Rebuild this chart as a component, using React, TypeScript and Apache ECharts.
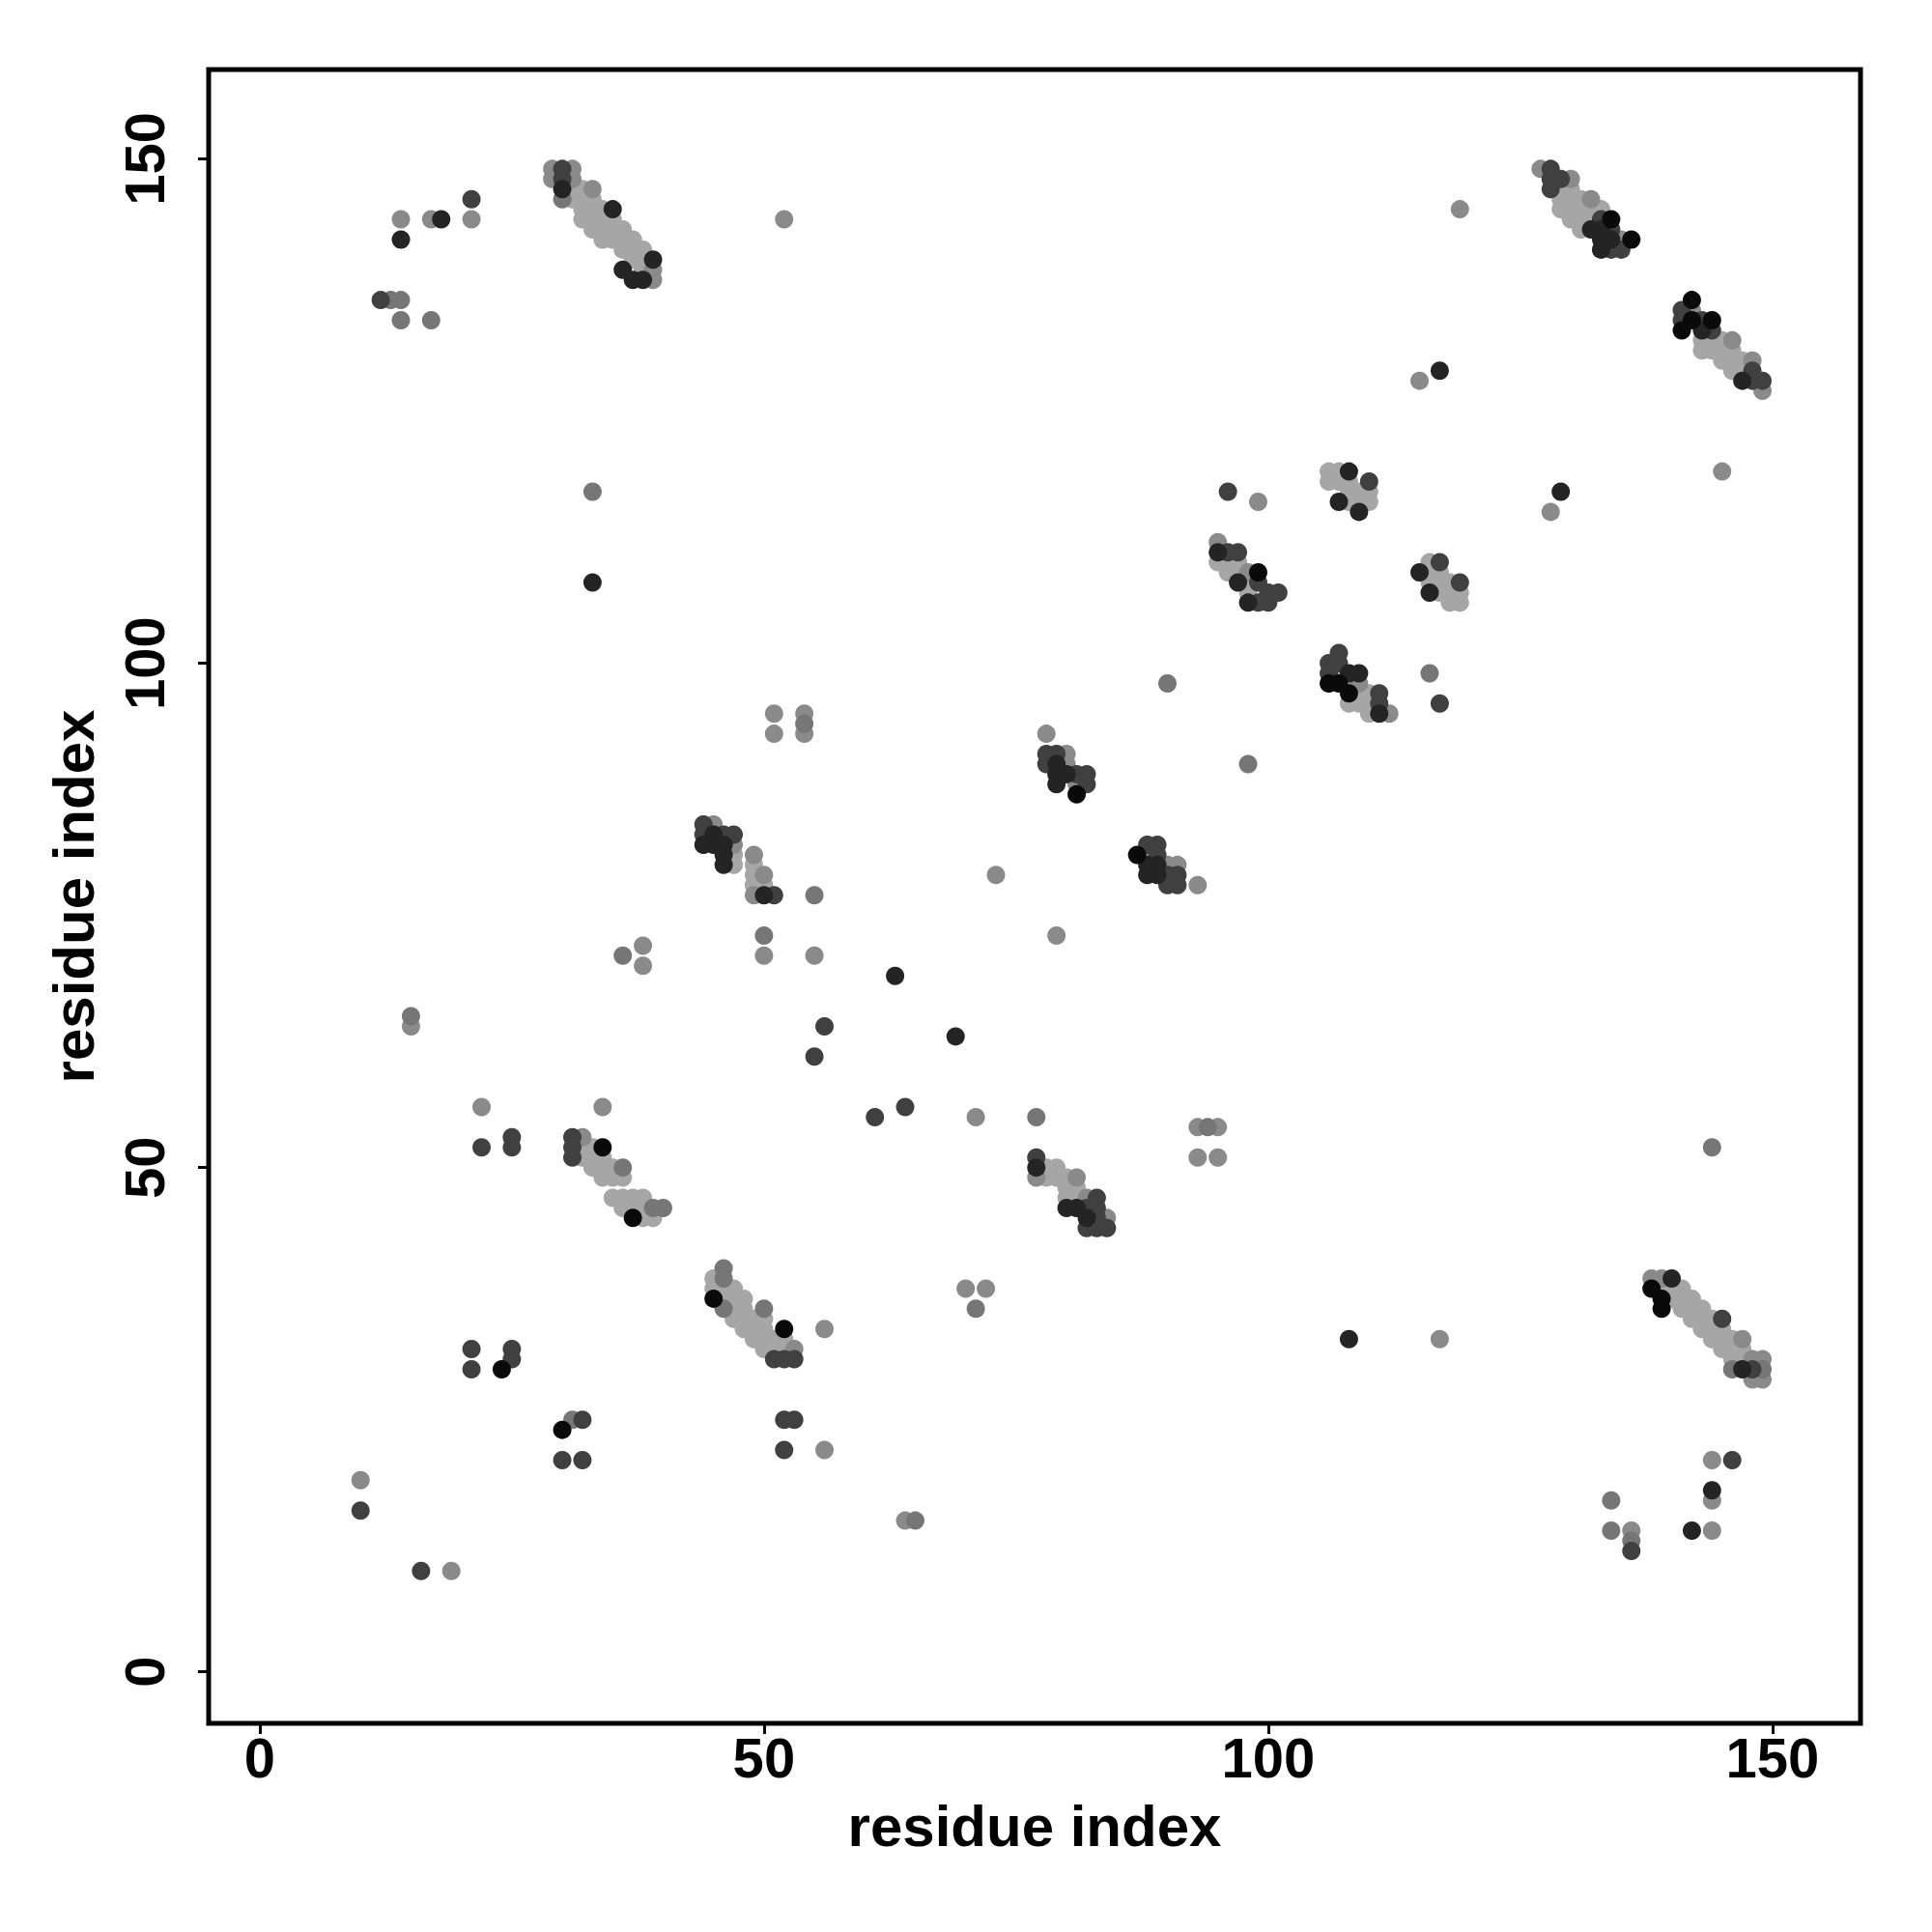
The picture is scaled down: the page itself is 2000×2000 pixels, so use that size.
import React, { useEffect, useRef } from "react";
import * as echarts from "echarts";

// [residue i, residue j, contact level 1 (weak, light) .. 6 (strong, black)]
const topLeftIsolated: number[][] = [
  [14, 144, 2], [14, 142, 5], [17, 144, 2], [18, 144, 5], [21, 146, 4], [21, 144, 2],
  [12, 136, 4], [13, 136, 3], [14, 136, 3], [14, 134, 3], [17, 134, 3],
  [33, 117, 3], [33, 108, 5], [52, 144, 2],
];

const topLeftBand: number[][] = [
  [31, 147, 1], [32, 147, 1], [31, 146, 1], [32, 146, 1], [32, 145, 1], [32, 144, 1],
  [33, 146, 1], [33, 145, 1], [33, 144, 1], [33, 143, 1], [34, 145, 1], [34, 144, 1],
  [34, 143, 1], [34, 142, 1], [35, 144, 1], [35, 143, 1], [35, 142, 1], [36, 143, 1],
  [36, 142, 1], [36, 141, 1], [37, 142, 1], [37, 141, 1], [37, 140, 1], [38, 141, 1],
  [38, 140, 1], [38, 139, 1],
  [29, 149, 2], [29, 148, 2], [30, 149, 4], [31, 149, 2], [31, 148, 2], [30, 148, 4],
  [30, 147, 5], [30, 146, 3], [33, 147, 2], [35, 145, 5], [39, 140, 5], [36, 139, 5],
  [37, 138, 5], [38, 138, 5], [39, 139, 2], [39, 138, 2],
];

const upperRightBand: number[][] = [
  [129, 147, 1], [129, 146, 1], [129, 145, 1], [130, 147, 1], [130, 146, 1], [130, 145, 1],
  [130, 144, 1], [131, 146, 1], [131, 145, 1], [131, 144, 1], [131, 143, 1], [132, 145, 1],
  [132, 144, 1], [133, 145, 1],
  [127, 149, 2], [128, 149, 4], [129, 148, 4], [128, 148, 4], [128, 147, 4], [130, 148, 2],
  [132, 146, 2], [133, 144, 4], [134, 144, 6], [132, 143, 5], [133, 143, 5], [133, 142, 5],
  [133, 141, 5], [134, 141, 4], [135, 141, 4], [134, 143, 4], [134, 142, 5], [135, 142, 2],
  [136, 142, 6],
];

const rightBand: number[][] = [
  [143, 131, 1], [144, 132, 1], [144, 131, 1], [145, 132, 1], [145, 131, 1], [145, 130, 1],
  [146, 131, 1], [146, 130, 1], [146, 129, 1], [147, 130, 1], [147, 129, 1], [143, 132, 1],
  [142, 136, 6], [141, 135, 4], [141, 134, 4], [141, 133, 6], [142, 135, 2], [142, 134, 6],
  [143, 134, 4], [144, 134, 6], [143, 133, 5], [144, 133, 4], [146, 132, 2], [148, 130, 2],
  [147, 128, 5], [148, 128, 4], [148, 129, 4], [149, 128, 4], [149, 127, 2],
];

const middleUpperContacts: number[][] = [
  [96, 117, 4], [99, 116, 2], [119, 145, 2], [115, 128, 2], [117, 129, 5], [145, 119, 2],
  [129, 117, 5], [128, 115, 2], [116, 99, 3], [117, 96, 4], [90, 98, 3], [98, 90, 3],
  // cluster 95-101 / 106-112
  [95, 110, 1], [96, 110, 1], [96, 109, 1], [97, 110, 1], [97, 109, 1], [98, 108, 1], [98, 107, 1],
  [95, 112, 2], [95, 111, 5], [96, 111, 4], [97, 111, 4], [98, 109, 2], [99, 109, 6],
  [99, 108, 4], [97, 108, 5], [98, 106, 5], [99, 106, 4], [100, 106, 4], [100, 107, 4],
  [101, 107, 4],
  // cluster 106-110 / 115-119
  [106, 119, 1], [107, 119, 1], [106, 118, 1], [107, 118, 1], [108, 118, 1], [108, 117, 1],
  [109, 117, 1], [110, 117, 1], [108, 116, 1], [109, 116, 1], [110, 116, 1],
  [108, 119, 5], [110, 118, 4], [107, 116, 5], [109, 115, 5],
  // cluster 115-119 / 106-110
  [116, 110, 1], [116, 109, 1], [117, 109, 1], [116, 108, 1], [117, 108, 1], [118, 108, 1],
  [117, 107, 1], [118, 107, 1], [119, 107, 1], [118, 106, 1], [119, 106, 1],
  [117, 110, 4], [115, 109, 5], [119, 108, 4], [116, 107, 5],
  // cluster 106-112 / 95-101
  [107, 99, 1], [108, 98, 1], [109, 97, 1], [110, 97, 1], [108, 96, 1], [109, 96, 1],
  [110, 96, 1], [110, 95, 1],
  [107, 101, 4], [106, 100, 4], [107, 100, 4], [106, 99, 4], [106, 98, 6], [108, 99, 5],
  [109, 99, 5], [109, 98, 2], [107, 98, 6], [108, 97, 6], [111, 97, 4], [111, 96, 4],
  [111, 95, 5], [112, 95, 2],
];

const middleContacts: number[][] = [
  [51, 95, 2], [51, 93, 2], [54, 95, 2], [54, 94, 3], [54, 93, 2], [36, 71, 3], [38, 72, 2],
  [38, 70, 2], [15, 65, 3], [15, 64, 2], [50, 73, 3], [50, 71, 2], [55, 71, 2], [55, 77, 3],
  [22, 56, 2], [22, 52, 4], [25, 53, 4], [25, 52, 4], [34, 56, 2], [78, 93, 2], [73, 79, 2],
  [79, 73, 2], [63, 69, 5], [56, 64, 4], [55, 61, 4], [69, 63, 5], [61, 55, 4], [64, 56, 4],
  [71, 55, 2], [77, 55, 3], [93, 54, 2], [94, 54, 3], [95, 54, 2], [93, 51, 2], [95, 51, 2],
  // cluster 44-51 / 77-84
  [47, 81, 1], [47, 80, 1], [49, 80, 1], [49, 79, 1], [49, 78, 1], [50, 78, 1],
  [44, 84, 4], [45, 84, 2], [44, 83, 4], [45, 83, 5], [44, 82, 5], [45, 82, 5], [46, 83, 4],
  [47, 83, 4], [46, 82, 5], [46, 81, 5], [46, 80, 5], [47, 82, 2], [49, 81, 2], [49, 77, 2],
  [50, 79, 2], [50, 77, 5], [51, 77, 4],
  // cluster 78-82 / 87-91
  [78, 91, 4], [78, 90, 4], [79, 91, 4], [80, 91, 2], [79, 90, 5], [79, 89, 5], [79, 88, 5],
  [80, 90, 2], [80, 89, 5], [81, 89, 4], [82, 89, 4], [81, 88, 2], [82, 88, 4], [81, 87, 6],
  // cluster 87-93 / 78-82
  [88, 81, 1],
  [87, 81, 6], [88, 82, 4], [89, 82, 4], [89, 81, 4], [88, 80, 5], [88, 79, 5], [89, 79, 5],
  [89, 80, 5], [90, 80, 2], [91, 80, 2], [90, 79, 4], [90, 78, 4], [91, 78, 4], [91, 79, 4],
  [93, 78, 2],
];

const lowerLeftBand: number[][] = [
  [32, 52, 1], [32, 51, 1], [33, 52, 1], [33, 51, 1], [33, 50, 1], [34, 51, 1], [34, 50, 1],
  [34, 49, 1], [35, 50, 1], [35, 49, 1], [36, 49, 1], [35, 47, 1], [36, 47, 1], [37, 47, 1],
  [38, 47, 1], [36, 46, 1], [37, 46, 1], [38, 46, 1], [38, 45, 1], [39, 45, 1],
  [31, 53, 4], [31, 52, 4], [31, 51, 4], [32, 53, 2], [34, 52, 6], [36, 50, 3], [39, 46, 3],
  [40, 46, 3], [37, 45, 6],
];

const lowerMiddleBand: number[][] = [
  [45, 39, 1], [45, 38, 1], [46, 38, 1], [47, 38, 1], [46, 37, 1], [47, 37, 1], [47, 36, 1],
  [47, 35, 1], [48, 37, 1], [48, 36, 1], [48, 35, 1], [48, 34, 1], [49, 35, 1], [49, 34, 1],
  [49, 33, 1], [50, 35, 1], [50, 34, 1], [50, 33, 1], [50, 32, 1], [51, 33, 1], [51, 32, 1],
  [52, 33, 1], [52, 32, 1],
  [46, 40, 3], [46, 39, 3], [45, 37, 6], [46, 36, 3], [50, 36, 3], [52, 34, 6], [53, 32, 2],
  [51, 31, 4], [52, 31, 4], [53, 31, 4], [56, 34, 2],
  // band 77-84 / 44-51
  [78, 50, 1], [79, 50, 1], [78, 49, 1], [79, 49, 1], [80, 49, 1], [80, 48, 1], [81, 48, 1],
  [80, 47, 1], [81, 47, 1],
  [77, 51, 4], [77, 50, 5], [77, 49, 2], [81, 49, 2], [82, 47, 2], [83, 47, 4], [80, 46, 5],
  [81, 46, 5], [82, 46, 4], [83, 46, 4], [82, 45, 5], [83, 45, 4], [84, 45, 2], [82, 44, 4],
  [83, 44, 4], [84, 44, 4],
];

const lowerContacts: number[][] = [
  [70, 38, 2], [72, 38, 2], [71, 36, 3], [52, 25, 4], [53, 25, 4], [52, 22, 4], [56, 22, 2],
  [64, 15, 2], [65, 15, 3], [21, 32, 4], [21, 30, 4], [25, 32, 4], [25, 31, 4], [24, 30, 6],
  [30, 24, 6], [31, 25, 3], [32, 25, 4], [30, 21, 4], [32, 21, 4], [10, 19, 2], [10, 16, 4],
  [16, 10, 4], [19, 10, 2], [108, 33, 5], [117, 33, 2], [144, 52, 3],
  [144, 21, 2], [146, 21, 4], [144, 18, 5], [144, 17, 2], [134, 17, 3], [134, 14, 3],
  [136, 14, 2], [136, 13, 3], [136, 12, 4], [142, 14, 5], [144, 14, 2],
];

const lowerRightBand: number[][] = [
  [139, 38, 1], [140, 38, 1], [141, 38, 1], [140, 37, 1], [141, 37, 1], [142, 37, 1],
  [141, 36, 1], [142, 36, 1], [143, 36, 1], [142, 35, 1], [143, 35, 1], [144, 35, 1],
  [143, 34, 1], [144, 34, 1], [145, 34, 1], [144, 33, 1], [145, 33, 1], [146, 33, 1],
  [145, 32, 1], [146, 32, 1], [147, 32, 1], [146, 31, 1], [147, 31, 1],
  [138, 39, 2], [139, 39, 2], [140, 39, 5], [138, 38, 6], [139, 37, 6], [139, 36, 6],
  [145, 35, 4], [147, 33, 2], [148, 31, 2], [149, 31, 2], [146, 30, 3], [147, 30, 5],
  [148, 30, 4], [149, 30, 3], [148, 29, 2], [149, 29, 2],
];

const tickValues = [0, 50, 100, 150];
const axisTitle = "residue index";
const levelColors = ["#a6a6a6", "#8a8a8a", "#767676", "#404040", "#242424", "#0a0a0a"];

export default function App() {
  const ref = useRef<HTMLDivElement>(null);

  useEffect(() => {
    if (!ref.current) return;
    const chart = echarts.init(ref.current, undefined, { renderer: "svg" });
    const all = [
      ...topLeftIsolated, ...topLeftBand, ...upperRightBand, ...rightBand,
      ...middleUpperContacts, ...middleContacts, ...lowerLeftBand, ...lowerMiddleBand,
      ...lowerContacts, ...lowerRightBand,
    ];
    const data = all.slice().sort((a, b) => a[2] - b[2]);
    const font = "'Liberation Sans', Arial, Helvetica, sans-serif";

    chart.setOption({
      animation: false,
      backgroundColor: "#ffffff",
      grid: {
        left: 216, right: 74, top: 72, bottom: 216,
        show: true, borderColor: "#000", borderWidth: 5, backgroundColor: "transparent",
      },
      visualMap: {
        type: "piecewise", show: false, dimension: 2, seriesIndex: 0,
        pieces: levelColors.map((c, i) => ({ value: i + 1, color: c })),
      },
      xAxis: {
        type: "value", min: -5.06, max: 158.72,
        name: axisTitle, nameLocation: "middle", nameGap: 76,
        nameTextStyle: { fontFamily: font, fontWeight: "bold", fontSize: 60, color: "#000" },
        axisLine: { show: false, onZero: false },
        splitLine: { show: false },
        axisTick: { show: true, length: 11, inside: false, customValues: tickValues, lineStyle: { color: "#000", width: 3 } },
        axisLabel: {
          customValues: tickValues, margin: 6,
          fontFamily: font, fontWeight: "bold", fontSize: 58, color: "#000",
        },
      },
      yAxis: {
        type: "value", min: -5.1, max: 158.85,
        name: axisTitle, nameLocation: "middle", nameGap: 110, nameRotate: 90,
        nameTextStyle: { fontFamily: font, fontWeight: "bold", fontSize: 60, color: "#000" },
        axisLine: { show: false, onZero: false },
        splitLine: { show: false },
        axisTick: { show: true, length: 11, inside: false, customValues: tickValues, lineStyle: { color: "#000", width: 3 } },
        axisLabel: {
          customValues: tickValues, margin: 38, rotate: 90,
          fontFamily: font, fontWeight: "bold", fontSize: 58, color: "#000",
        },
      },
      series: [
        {
          type: "scatter",
          symbol: "circle",
          symbolSize: 19,
          data,
          itemStyle: { opacity: 1 },
        },
      ],
    });
    return () => chart.dispose();
  }, []);

  return (
    <div
      ref={ref}
      style={{ position: "absolute", left: 0, top: 0, width: 2000, height: 2000 }}
    />
  );
}
